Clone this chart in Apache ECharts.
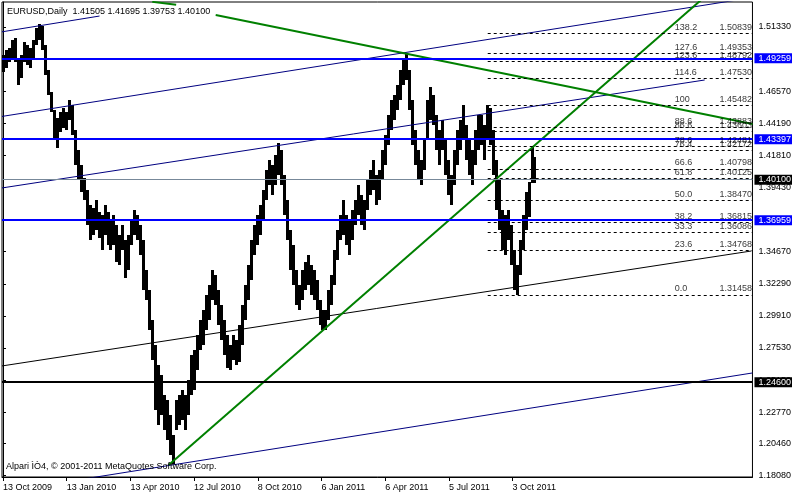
<!DOCTYPE html>
<html><head><meta charset="utf-8">
<script src="https://cdn.jsdelivr.net/npm/echarts@6/dist/echarts.min.js"></script>
<style>html,body{margin:0;padding:0;background:#fff}#c{width:794px;height:494px}</style>
</head><body><div id="c"></div>
<script>
const FONT = '"Liberation Sans", Arial, sans-serif';

// ---- daily bars (every 3rd bar sampled), bar index step ----
const barStep = 3;
const barHigh = [1.4924,1.4961,1.4976,1.5036,1.5050,1.4887,1.4924,1.5021,1.4999,1.4976,
1.5036,1.5124,1.5154,1.5139,1.4999,1.4813,1.4650,1.4517,1.4458,1.4502,
1.4532,1.4502,1.4591,1.4554,1.4369,1.4221,1.4110,1.4013,1.3924,1.3813,
1.3791,1.3850,1.3761,1.3739,1.3813,1.3761,1.3702,1.3739,1.3665,1.3591,
1.3665,1.3554,1.3591,1.3702,1.3776,1.3739,1.3665,1.3554,1.3331,1.3183,
1.2961,1.2776,1.2627,1.2553,1.2405,1.2368,1.2257,1.2109,1.2368,1.2405,
1.2442,1.2405,1.2516,1.2701,1.2739,1.2850,1.2961,1.3035,1.3146,1.3220,
1.3331,1.3294,1.3183,1.3072,1.2961,1.2850,1.2776,1.2850,1.2813,1.2924,
1.3072,1.3220,1.3369,1.3554,1.3665,1.3739,1.3813,1.3924,1.4073,1.4147,
1.4110,1.4184,1.4272,1.4221,1.4036,1.3850,1.3628,1.3517,1.3331,1.3220,
1.3331,1.3391,1.3443,1.3369,1.3331,1.3257,1.3109,1.3035,1.3035,1.3183,
1.3294,1.3480,1.3628,1.3739,1.3850,1.3739,1.3702,1.3776,1.3850,1.3961,
1.3887,1.3850,1.3999,1.4073,1.4147,1.4036,1.4073,1.4221,1.4332,1.4480,
1.4591,1.4628,1.4702,1.4813,1.4902,1.4939,1.4813,1.4591,1.4369,1.4221,
1.4147,1.4295,1.4591,1.4690,1.4628,1.4480,1.4369,1.4443,1.4295,1.4147,
1.4036,1.4221,1.4369,1.4443,1.4554,1.4406,1.4295,1.4221,1.4369,1.4480,
1.4480,1.4406,1.4554,1.4532,1.4369,1.4147,1.3999,1.3776,1.3739,1.3776,
1.3665,1.3480,1.3369,1.3554,1.3739,1.3909,1.3984,1.4250,1.41695];
const barLow = [1.4798,1.4828,1.4872,1.4902,1.4872,1.4702,1.4754,1.4872,1.4850,1.4828,
1.4887,1.4999,1.5036,1.4961,1.4776,1.4628,1.4502,1.4295,1.4235,1.4354,
1.4384,1.4369,1.4443,1.4332,1.4110,1.3999,1.3909,1.3850,1.3665,1.3554,
1.3591,1.3628,1.3569,1.3480,1.3591,1.3517,1.3480,1.3517,1.3391,1.3369,
1.3480,1.3272,1.3331,1.3517,1.3591,1.3554,1.3443,1.3183,1.3109,1.2887,
1.2664,1.2294,1.2183,1.2257,1.2146,1.2072,1.1960,1.1894,1.2146,1.2183,
1.2220,1.2146,1.2257,1.2405,1.2442,1.2590,1.2739,1.2776,1.2887,1.2961,
1.3109,1.3072,1.2924,1.2813,1.2701,1.2605,1.2590,1.2664,1.2627,1.2649,
1.2776,1.2961,1.3109,1.3257,1.3443,1.3517,1.3591,1.3702,1.3850,1.3961,
1.3887,1.3961,1.4036,1.3961,1.3739,1.3554,1.3331,1.3220,1.3072,1.3035,
1.3109,1.3183,1.3220,1.3146,1.3109,1.3035,1.2924,1.2887,1.2887,1.2961,
1.3072,1.3220,1.3405,1.3554,1.3591,1.3517,1.3443,1.3554,1.3665,1.3739,
1.3665,1.3628,1.3776,1.3887,1.3924,1.3813,1.3850,1.3999,1.4110,1.4258,
1.4369,1.4443,1.4517,1.4591,1.4702,1.4739,1.4517,1.4258,1.4110,1.3999,
1.3961,1.4073,1.4295,1.4443,1.4406,1.4221,1.4110,1.4221,1.4036,1.3887,
1.3813,1.3961,1.4110,1.4221,1.4295,1.4147,1.4036,1.3961,1.4110,1.4221,
1.4258,1.4147,1.4295,1.4258,1.4036,1.3776,1.3628,1.3480,1.3443,1.3554,
1.3369,1.3183,1.3146,1.3294,1.3480,1.3628,1.3724,1.3976,1.39753];

// ---- axes ----
const dateTickIdx = [0,64,128,192,256,320,384,448,512];
const dateLabels = ['13 Oct 2009','13 Jan 2010','13 Apr 2010','12 Jul 2010','8 Oct 2010','6 Jan 2011','6 Apr 2011','5 Jul 2011','3 Oct 2011'];
const priceTicks = [1.1808,1.2046,1.2277,1.2515,1.2753,1.2991,1.3229,1.3467,1.3705,1.3943,1.4181,1.4419,1.4657,1.4895,1.5133];

// ---- horizontal levels ----
const hPrices = [1.49259,1.43397,1.36959,1.40100,1.24600];
const hColors = ['#0000ff','#0000ff','#0000ff','#778899','#000000'];
const hWidths = [2,2,2,1,2];
const hLabelBg = ['#0000ff','#0000ff','#0000ff','#000000','#000000'];

// ---- fibonacci ----
const fibLevels = ['0.0','23.6','33.3','38.2','50.0','61.8','66.6','76.4','78.6','86.6','88.6','100','114.6','123.6','127.6','138.2'];
const fibPrices = [1.31458,1.34768,1.36086,1.36815,1.38470,1.40125,1.40798,1.42172,1.42481,1.43603,1.43883,1.45482,1.47530,1.48792,1.49353,1.50839];
const fibStartIdx = 487, fibEndIdx = 753;

// ---- trend lines [barIndex, price] ----
const navyA = [[-1,1.5096],[97,1.5213]];
const navyB = [[-1,1.4469],[753,1.5350]];
const navyC = [[-1,1.3939],[705,1.4739]];
const blackChannel = [[-1,1.2620],[752,1.3472]];
const navyBottom = [[80,1.1781],[753,1.2568]];
const greenDown = [[213.7,1.5221],[753,1.4413]];
const greenUp = [[166.5,1.1886],[720,1.5452]];
const greenTop = [[150,1.5318],[174,1.5297]];

const titleText = 'EURUSD,Daily  1.41505 1.41695 1.39753 1.40100';
const footText = 'Alpari ÌÒ4, © 2001-2011 MetaQuotes Software Corp.';

const X_MIN = -1, X_MAX = 753, Y_MIN = 1.1797, Y_MAX = 1.5317;

const barData = barHigh.map((h, i) => [i * barStep, barLow[i], h]);

function tl(pts, color, width) {
  return {type:'line', data: pts, symbol:'none', silent:true, clip:true,
    lineStyle:{color:color, width:width}, z:3};
}

const chart = echarts.init(document.getElementById('c'));
chart.setOption({
  animation:false,
  backgroundColor:'#fff',
  textStyle:{fontFamily:FONT},
  title:[
    {text:titleText, left:7, top:7, padding:0, textStyle:{fontSize:9, fontWeight:'normal', color:'#000', fontFamily:FONT}},
    {text:footText, left:6, top:462, padding:0, textStyle:{fontSize:9, fontWeight:'normal', color:'#000', fontFamily:FONT}}
  ],
  grid:{left:2, right:38, top:2, bottom:17, show:true, borderColor:'#000', borderWidth:1, backgroundColor:'transparent'},
  xAxis:{type:'value', min:X_MIN, max:X_MAX, position:'bottom',
    axisLine:{show:true, lineStyle:{color:'#000', width:1}},
    axisTick:{show:true, length:4, customValues:dateTickIdx, lineStyle:{color:'#000'}},
    axisLabel:{show:true, customValues:dateTickIdx, align:'left', margin:6, fontSize:9, color:'#000', fontFamily:FONT,
      formatter:(v)=>{const k=dateTickIdx.indexOf(v); return k>=0?dateLabels[k]:'';}},
    splitLine:{show:false}},
  yAxis:{type:'value', min:Y_MIN, max:Y_MAX, position:'right',
    axisLine:{show:true, lineStyle:{color:'#000', width:1}},
    axisTick:{show:true, length:3, customValues:priceTicks, lineStyle:{color:'#000'}},
    axisLabel:{show:true, customValues:priceTicks, margin:6, fontSize:9, color:'#000', fontFamily:FONT,
      formatter:(v)=>v.toFixed(5)},
    splitLine:{show:false}},
  series:[
    {type:'custom', data:barData, encode:{x:0, y:[1,2]}, silent:true, z:1,
      renderItem:(params, api)=>{
        const x = api.value(0), lo = api.value(1), hi = api.value(2);
        const t = api.coord([x, hi]), b = api.coord([x, lo]);
        return {type:'rect', shape:{x:Math.round(t[0])-1, y:Math.round(t[1]), width:3, height:Math.max(1, Math.round(b[1]-t[1]))}, style:{fill:'#000'}};
      }},
    {type:'line', data:[], silent:true, z:2,
      markLine:{silent:true, symbol:['none','none'], animation:false,
        data: fibPrices.map(p => [{coord:[fibStartIdx, p]}, {coord:[fibEndIdx, p]}]),
        lineStyle:{color:'#000', width:1, type:[3,3]}, label:{show:false}}},
    tl(navyA,'#000080',1), tl(navyB,'#000080',1), tl(navyC,'#000080',1),
    tl(navyBottom,'#000080',1), tl(blackChannel,'#000000',1),
    tl(greenDown,'#008000',2), tl(greenUp,'#008000',2), tl(greenTop,'#008000',2),
    {type:'line', data:[], silent:true, z:4,
      markLine:{silent:true, symbol:['none','none'], animation:false,
        data: hPrices.map((p,i)=>({yAxis:p,
          lineStyle:{color:hColors[i], width:hWidths[i], type:'solid'},
          label:{show:true, position:'end', distance:2, formatter:()=>p.toFixed(5),
            backgroundColor:hLabelBg[i], color:'#fff', fontSize:9, fontFamily:FONT,
            lineHeight:10, padding:[0,1,0,4]}}))}},
    {type:'scatter', silent:true, z:5, symbolSize:1, itemStyle:{color:'rgba(0,0,0,0)'},
      data: fibPrices.map((p,i)=>({value:[675, p], name:fibLevels[i]})),
      label:{show:true, position:'top', distance:1, align:'left', fontSize:9, color:'#000', fontFamily:FONT,
        formatter:(d)=>d.name}},
    {type:'scatter', silent:true, z:5, symbolSize:1, itemStyle:{color:'rgba(0,0,0,0)'},
      data: fibPrices.map((p,i)=>({value:[752.5, p]})),
      label:{show:true, position:'top', distance:1, align:'right', fontSize:9, color:'#000', fontFamily:FONT,
        formatter:(d)=>fibPrices[d.dataIndex].toFixed(5)}}
  ]
});
</script></body></html>
